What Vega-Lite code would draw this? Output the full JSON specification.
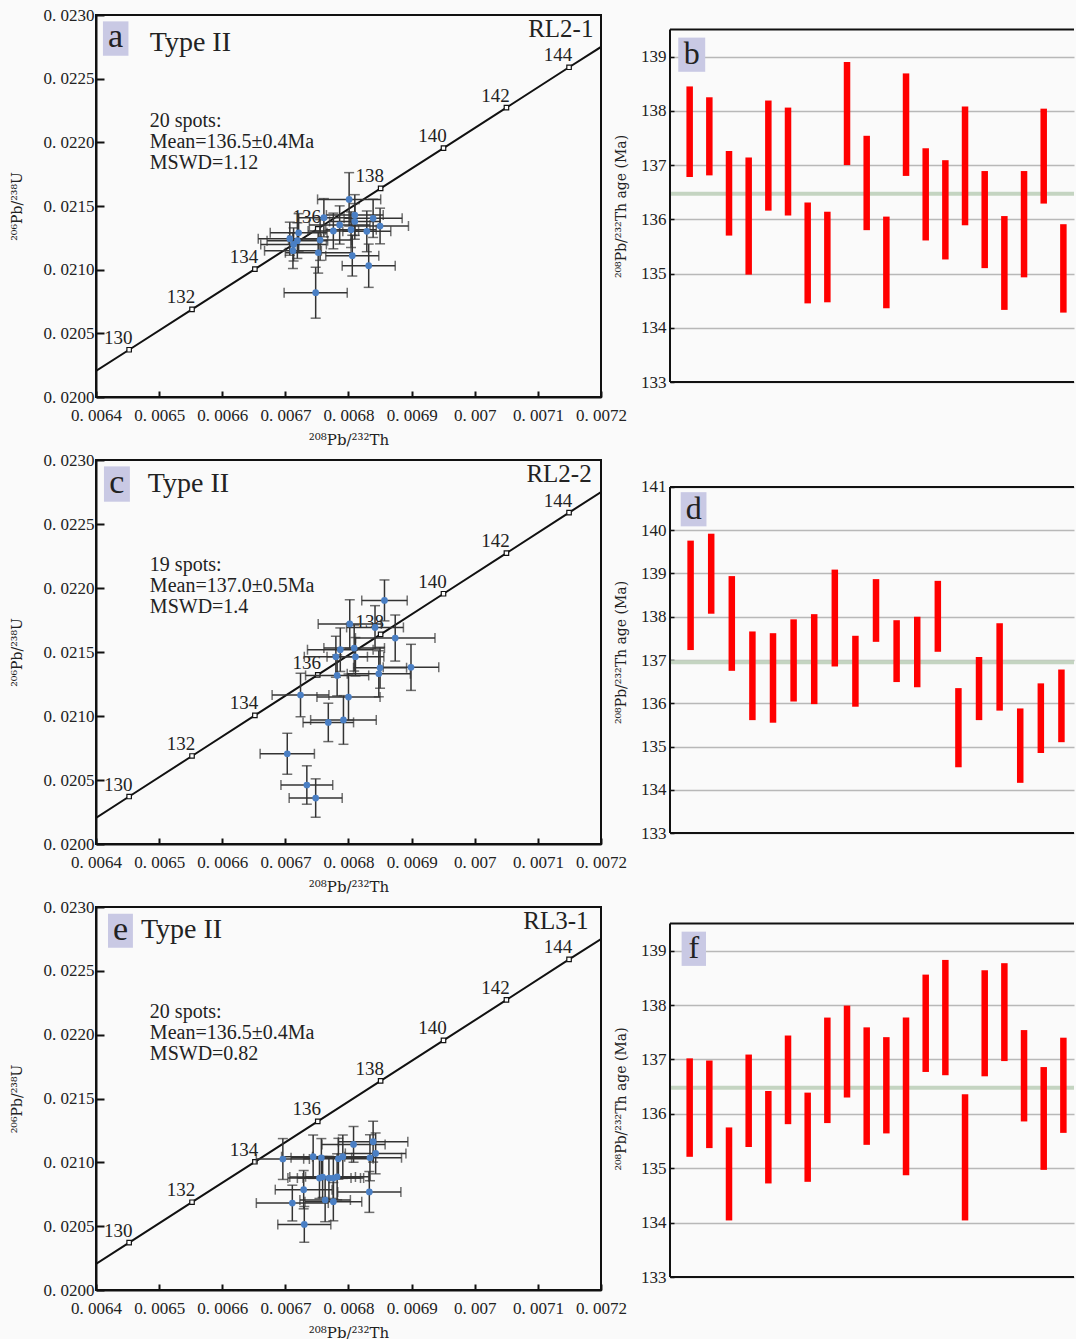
{
"$schema": "https://vega.github.io/schema/vega-lite/v6.json",
"background": "#fafafa",
"padding": {"left": 9, "top": 5, "right": 0, "bottom": 0},
"columns": 2,
"bounds": "flush",
"spacing": {"row": 63, "column": 69},
"config": {"font": "Liberation Serif", "axis": {"labelFont": "Liberation Serif", "titleFont": "DejaVu Serif", "titleFontWeight": "normal", "labelColor": "#222", "titleColor": "#222"}, "text": {"font": "Liberation Serif", "color": "#222"}},
"datasets": {
"conc": [{"t":128.946,"x":0.0064,"y":0.020204},{"t":130,"x":0.0064525,"y":0.020371},{"t":132,"x":0.0065521,"y":0.0206876},{"t":134,"x":0.0066517,"y":0.0210043},{"t":136,"x":0.0067513,"y":0.0213211},{"t":138,"x":0.0068509,"y":0.021638},{"t":140,"x":0.0069505,"y":0.0219551},{"t":142,"x":0.0070502,"y":0.0222722},{"t":144,"x":0.0071494,"y":0.0225894},{"t":145.007,"x":0.0072,"y":0.022749}],
"a": [{"x":0.006801,"y":0.021552,"sx":0.00005,"sy":0.00021},{"x":0.006761,"y":0.021408,"sx":0.000042,"sy":0.00015},{"x":0.00681,"y":0.021429,"sx":0.000045,"sy":0.00016},{"x":0.00681,"y":0.021379,"sx":0.00004,"sy":0.00014},{"x":0.006839,"y":0.021403,"sx":0.000046,"sy":0.00015},{"x":0.00685,"y":0.021343,"sx":0.000045,"sy":0.00014},{"x":0.006786,"y":0.021351,"sx":0.000048,"sy":0.00015},{"x":0.006776,"y":0.021304,"sx":0.00004,"sy":0.00014},{"x":0.006829,"y":0.021301,"sx":0.000038,"sy":0.00016},{"x":0.006721,"y":0.02129,"sx":0.000045,"sy":0.00015},{"x":0.006707,"y":0.021243,"sx":0.00005,"sy":0.00013},{"x":0.006719,"y":0.021228,"sx":0.000048,"sy":0.00014},{"x":0.006755,"y":0.021233,"sx":0.00005,"sy":0.00016},{"x":0.006713,"y":0.021198,"sx":0.000052,"sy":0.00013},{"x":0.006712,"y":0.021149,"sx":0.000045,"sy":0.00014},{"x":0.006752,"y":0.021133,"sx":0.000052,"sy":0.00016},{"x":0.006806,"y":0.02111,"sx":0.000042,"sy":0.00016},{"x":0.006832,"y":0.021031,"sx":0.000042,"sy":0.00017},{"x":0.006748,"y":0.020819,"sx":0.00005,"sy":0.0002},{"x":0.006804,"y":0.021314,"sx":0.00004,"sy":0.00014}],
"c": [{"x":0.006857,"y":0.021903,"sx":0.000036,"sy":0.00016},{"x":0.006802,"y":0.021719,"sx":0.00005,"sy":0.00019},{"x":0.006842,"y":0.021692,"sx":0.000045,"sy":0.00017},{"x":0.006874,"y":0.021609,"sx":0.000063,"sy":0.00018},{"x":0.006787,"y":0.021518,"sx":0.000052,"sy":0.00017},{"x":0.006809,"y":0.021531,"sx":0.000048,"sy":0.00018},{"x":0.00678,"y":0.021463,"sx":0.00005,"sy":0.00016},{"x":0.006811,"y":0.021463,"sx":0.000045,"sy":0.00015},{"x":0.006899,"y":0.02138,"sx":0.000044,"sy":0.00018},{"x":0.00685,"y":0.021377,"sx":0.000042,"sy":0.00016},{"x":0.006848,"y":0.02133,"sx":0.00005,"sy":0.00018},{"x":0.006782,"y":0.021317,"sx":0.00005,"sy":0.00016},{"x":0.006724,"y":0.021164,"sx":0.000045,"sy":0.00017},{"x":0.0068,"y":0.021148,"sx":0.00005,"sy":0.00018},{"x":0.006768,"y":0.02095,"sx":0.00004,"sy":0.00015},{"x":0.006792,"y":0.020969,"sx":0.000052,"sy":0.00019},{"x":0.006703,"y":0.020705,"sx":0.000043,"sy":0.00016},{"x":0.006734,"y":0.020461,"sx":0.000041,"sy":0.00015},{"x":0.006748,"y":0.020359,"sx":0.000042,"sy":0.00015}],
"e": [{"x":0.006696,"y":0.021026,"sx":0.000042,"sy":0.00016},{"x":0.006744,"y":0.021044,"sx":0.00005,"sy":0.00017},{"x":0.006757,"y":0.021036,"sx":0.000048,"sy":0.00015},{"x":0.006784,"y":0.021028,"sx":0.000055,"sy":0.00016},{"x":0.006791,"y":0.021044,"sx":0.000048,"sy":0.00017},{"x":0.006808,"y":0.02114,"sx":0.00005,"sy":0.00014},{"x":0.006839,"y":0.021162,"sx":0.000055,"sy":0.00016},{"x":0.006843,"y":0.02107,"sx":0.000048,"sy":0.00016},{"x":0.006834,"y":0.021036,"sx":0.00005,"sy":0.00018},{"x":0.006759,"y":0.020885,"sx":0.000052,"sy":0.00016},{"x":0.006769,"y":0.020877,"sx":0.00005,"sy":0.00017},{"x":0.006776,"y":0.020877,"sx":0.000048,"sy":0.00016},{"x":0.006782,"y":0.020887,"sx":0.00005,"sy":0.00018},{"x":0.006729,"y":0.020786,"sx":0.000045,"sy":0.00015},{"x":0.006711,"y":0.020681,"sx":0.000057,"sy":0.00014},{"x":0.006763,"y":0.020705,"sx":0.00004,"sy":0.00017},{"x":0.006776,"y":0.020692,"sx":0.000045,"sy":0.00015},{"x":0.006833,"y":0.020768,"sx":0.00005,"sy":0.00016},{"x":0.00673,"y":0.020514,"sx":0.000042,"sy":0.00014},{"x":0.006754,"y":0.020877,"sx":0.00005,"sy":0.00016}],
"b": [{"i":1,"lo":136.78,"hi":138.45},{"i":2,"lo":136.81,"hi":138.25},{"i":3,"lo":135.7,"hi":137.26},{"i":4,"lo":134.98,"hi":137.14},{"i":5,"lo":136.16,"hi":138.19},{"i":6,"lo":136.07,"hi":138.06},{"i":7,"lo":134.45,"hi":136.31},{"i":8,"lo":134.47,"hi":136.14},{"i":9,"lo":137.0,"hi":138.9},{"i":10,"lo":135.8,"hi":137.54},{"i":11,"lo":134.36,"hi":136.05},{"i":12,"lo":136.8,"hi":138.69},{"i":13,"lo":135.61,"hi":137.31},{"i":14,"lo":135.26,"hi":137.09},{"i":15,"lo":135.89,"hi":138.08},{"i":16,"lo":135.1,"hi":136.89},{"i":17,"lo":134.33,"hi":136.06},{"i":18,"lo":134.93,"hi":136.89},{"i":19,"lo":136.29,"hi":138.04},{"i":20,"lo":134.28,"hi":135.91}],
"d": [{"i":1,"lo":137.23,"hi":139.76},{"i":2,"lo":138.07,"hi":139.92},{"i":3,"lo":136.75,"hi":138.94},{"i":4,"lo":135.61,"hi":137.66},{"i":5,"lo":135.55,"hi":137.62},{"i":6,"lo":136.04,"hi":137.94},{"i":7,"lo":135.98,"hi":138.06},{"i":8,"lo":136.85,"hi":139.09},{"i":9,"lo":135.92,"hi":137.56},{"i":10,"lo":137.42,"hi":138.87},{"i":11,"lo":136.49,"hi":137.92},{"i":12,"lo":136.37,"hi":138.0},{"i":13,"lo":137.19,"hi":138.83},{"i":14,"lo":134.52,"hi":136.35},{"i":15,"lo":135.61,"hi":137.07},{"i":16,"lo":135.83,"hi":137.85},{"i":17,"lo":134.16,"hi":135.88},{"i":18,"lo":134.85,"hi":136.46},{"i":19,"lo":135.1,"hi":136.78}],
"f": [{"i":1,"lo":135.21,"hi":137.02},{"i":2,"lo":135.37,"hi":136.98},{"i":3,"lo":134.04,"hi":135.75},{"i":4,"lo":135.39,"hi":137.09},{"i":5,"lo":134.72,"hi":136.42},{"i":6,"lo":135.81,"hi":137.44},{"i":7,"lo":134.75,"hi":136.39},{"i":8,"lo":135.83,"hi":137.77},{"i":9,"lo":136.3,"hi":137.99},{"i":10,"lo":135.43,"hi":137.59},{"i":11,"lo":135.64,"hi":137.41},{"i":12,"lo":134.87,"hi":137.77},{"i":13,"lo":136.77,"hi":138.56},{"i":14,"lo":136.71,"hi":138.83},{"i":15,"lo":134.04,"hi":136.36},{"i":16,"lo":136.69,"hi":138.64},{"i":17,"lo":136.97,"hi":138.77},{"i":18,"lo":135.86,"hi":137.54},{"i":19,"lo":134.97,"hi":136.86},{"i":20,"lo":135.65,"hi":137.4}]
},
"concat": [
{
"width": 505, "height": 382,
"view": {"stroke": "#111", "strokeWidth": 2},
"layer": [
{"data": {"values": [{}]}, "mark": {"type": "rect", "color": "#c9c9e4"}, "encoding": {"x": {"datum": 0.006411, "type": "quantitative"}, "x2": {"datum": 0.0064514}, "y": {"datum": 0.02295, "type": "quantitative"}, "y2": {"datum": 0.02268}}},
{"data": {"values": [{}]}, "mark": {"type": "text", "fontSize": 34, "align": "center", "baseline": "middle"}, "encoding": {"x": {"datum": 0.006431, "type": "quantitative"}, "y": {"datum": 0.02283, "type": "quantitative"}, "text": {"value": "a"}}},
{"data": {"values": [{}]}, "mark": {"type": "text", "fontSize": 28, "align": "left", "baseline": "middle"}, "encoding": {"x": {"datum": 0.0064852, "type": "quantitative"}, "y": {"datum": 0.02278, "type": "quantitative"}, "text": {"value": "Type II"}}},
{"data": {"values": [{}]}, "mark": {"type": "text", "fontSize": 25, "align": "right", "baseline": "middle"}, "encoding": {"x": {"datum": 0.007188, "type": "quantitative"}, "y": {"datum": 0.02289, "type": "quantitative"}, "text": {"value": "RL2-1"}}},
{"data": {"values": [{}]}, "mark": {"type": "text", "fontSize": 20, "align": "left", "baseline": "top", "lineHeight": 21}, "encoding": {"x": {"datum": 0.0064852, "type": "quantitative"}, "y": {"datum": 0.02225, "type": "quantitative"}, "text": {"value": ["20 spots:", "Mean=136.5±0.4Ma", "MSWD=1.12"]}}},
{"data": {"name": "conc"}, "mark": {"type": "line", "color": "#111", "strokeWidth": 2, "clip": true}, "encoding": {"x": {"field": "x", "type": "quantitative", "title": "²⁰⁸Pb/²³²Th", "scale": {"domain": [0.0064, 0.0072], "nice": false, "zero": false}, "axis": {"values": [0.0064,0.0065,0.0066,0.0067,0.0068,0.0069,0.007,0.0071,0.0072], "labelExpr": "'0. ' + substring(format(datum.value, '.4~f'), 2)", "grid": false, "tickSize": -6, "tickWidth": 2, "tickColor": "#111", "domainColor": "#111", "domainWidth": 2, "labelPadding": 16, "labelFontSize": 17, "labelFlush": false, "labelOverlap": false, "titleFontSize": 15, "titlePadding": 9}}, "y": {"field": "y", "type": "quantitative", "title": "²⁰⁶Pb/²³⁸U", "scale": {"domain": [0.02, 0.023], "nice": false, "zero": false}, "axis": {"values": [0.02,0.0205,0.021,0.0215,0.022,0.0225,0.023], "labelExpr": "'0. ' + substring(format(datum.value, '.4f'), 2)", "grid": false, "tickSize": -8, "tickWidth": 2, "tickColor": "#111", "domainColor": "#111", "domainWidth": 2, "labelPadding": 10, "labelFontSize": 17, "labelOverlap": false, "labelFlush": false, "titleFontSize": 14, "titlePadding": 19}}, "order": {"field": "t", "type": "quantitative"}}},
{"data": {"name": "conc"}, "transform": [{"filter": "datum.t % 2 == 0"}], "mark": {"type": "point", "shape": "square", "size": 20, "fill": "#fff", "stroke": "#111", "strokeWidth": 1.2, "opacity": 1}, "encoding": {"x": {"field": "x", "type": "quantitative", "title": "²⁰⁸Pb/²³²Th"}, "y": {"field": "y", "type": "quantitative", "title": "²⁰⁶Pb/²³⁸U"}}},
{"data": {"name": "conc"}, "transform": [{"filter": "datum.t % 2 == 0"}], "mark": {"type": "text", "fontSize": 19, "dx": -11, "dy": -12, "align": "center", "baseline": "middle"}, "encoding": {"x": {"field": "x", "type": "quantitative", "title": "²⁰⁸Pb/²³²Th"}, "y": {"field": "y", "type": "quantitative", "title": "²⁰⁶Pb/²³⁸U"}, "text": {"field": "t", "type": "quantitative", "format": "d"}}},
{"data": {"name": "a"}, "mark": {"type": "errorbar", "ticks": true, "color": "#333", "thickness": 1.5, "size": 10}, "encoding": {"x": {"field": "x", "type": "quantitative", "title": "²⁰⁸Pb/²³²Th"}, "xError": {"field": "sx"}, "y": {"field": "y", "type": "quantitative", "title": "²⁰⁶Pb/²³⁸U"}}},
{"data": {"name": "a"}, "mark": {"type": "errorbar", "ticks": true, "color": "#333", "thickness": 1.5, "size": 10}, "encoding": {"y": {"field": "y", "type": "quantitative", "title": "²⁰⁶Pb/²³⁸U"}, "yError": {"field": "sy"}, "x": {"field": "x", "type": "quantitative", "title": "²⁰⁸Pb/²³²Th"}}},
{"data": {"name": "a"}, "mark": {"type": "circle", "size": 45, "color": "#4a7fc4", "opacity": 1}, "encoding": {"x": {"field": "x", "type": "quantitative", "title": "²⁰⁸Pb/²³²Th"}, "y": {"field": "y", "type": "quantitative", "title": "²⁰⁶Pb/²³⁸U"}}}
]
},
{
"width": 404, "height": 382,
"view": {"stroke": null},
"layer": [
{"data": {"values": [{}]}, "mark": {"type": "rule", "color": "#c4d4c1", "strokeWidth": 4}, "encoding": {"y": {"datum": 136.47, "type": "quantitative"}}},
{"data": {"name": "b"}, "mark": {"type": "rule", "color": "#ff0000", "strokeWidth": 6.5}, "encoding": {"x": {"field": "i", "type": "quantitative", "scale": {"domain": [0, 20.54], "nice": false, "zero": false}, "axis": null}, "y": {"field": "lo", "type": "quantitative", "title": "²⁰⁸Pb/²³²Th age (Ma)", "scale": {"domain": [132.724, 139.767], "nice": false, "zero": false}, "axis": {"values": [133,133.5,134,134.5,135,135.5,136,136.5,137,137.5,138,138.5,139,139.5], "labelExpr": "datum.value % 1 == 0 ? format(datum.value, 'd') : ''", "grid": true, "gridColor": "#b8b8b8", "gridWidth": 1.5, "gridOpacity": {"condition": {"test": "datum.value % 1 != 0", "value": 0}, "value": 1}, "domain": false, "tickSize": -4, "tickWidth": 1.5, "tickColor": "#111", "labelPadding": 8, "labelFontSize": 17, "labelOverlap": false, "labelFlush": false, "titleFontSize": 14, "titlePadding": 12}}, "y2": {"field": "hi"}}},
{"data": {"values": [{}]}, "mark": {"type": "rule", "color": "#111", "strokeWidth": 2}, "encoding": {"y": {"datum": 139.5, "type": "quantitative"}}},
{"data": {"values": [{}]}, "mark": {"type": "rule", "color": "#111", "strokeWidth": 2}, "encoding": {"y": {"datum": 133, "type": "quantitative"}}},
{"data": {"values": [{}]}, "mark": {"type": "rule", "color": "#111", "strokeWidth": 2}, "encoding": {"x": {"datum": 0, "type": "quantitative", "axis": null}, "y": {"datum": 133, "type": "quantitative"}, "y2": {"datum": 139.5}}},
{"data": {"values": [{}]}, "mark": {"type": "rect", "color": "#c9c9e4"}, "encoding": {"x": {"datum": 0.42, "type": "quantitative", "axis": null}, "x2": {"datum": 1.79}, "y": {"datum": 139.35, "type": "quantitative"}, "y2": {"datum": 138.72}}},
{"data": {"values": [{}]}, "mark": {"type": "text", "fontSize": 32, "align": "center", "baseline": "middle"}, "encoding": {"x": {"datum": 1.1, "type": "quantitative", "axis": null}, "y": {"datum": 139.05, "type": "quantitative"}, "text": {"value": "b"}}}
]
},
{
"width": 505, "height": 384,
"view": {"stroke": "#111", "strokeWidth": 2},
"layer": [
{"data": {"values": [{}]}, "mark": {"type": "rect", "color": "#c9c9e4"}, "encoding": {"x": {"datum": 0.0064126, "type": "quantitative"}, "x2": {"datum": 0.0064537}, "y": {"datum": 0.02295, "type": "quantitative"}, "y2": {"datum": 0.022674}}},
{"data": {"values": [{}]}, "mark": {"type": "text", "fontSize": 34, "align": "center", "baseline": "middle"}, "encoding": {"x": {"datum": 0.006433, "type": "quantitative"}, "y": {"datum": 0.02282, "type": "quantitative"}, "text": {"value": "c"}}},
{"data": {"values": [{}]}, "mark": {"type": "text", "fontSize": 28, "align": "left", "baseline": "middle"}, "encoding": {"x": {"datum": 0.0064821, "type": "quantitative"}, "y": {"datum": 0.022815, "type": "quantitative"}, "text": {"value": "Type II"}}},
{"data": {"values": [{}]}, "mark": {"type": "text", "fontSize": 25, "align": "right", "baseline": "middle"}, "encoding": {"x": {"datum": 0.0071852, "type": "quantitative"}, "y": {"datum": 0.02289, "type": "quantitative"}, "text": {"value": "RL2-2"}}},
{"data": {"values": [{}]}, "mark": {"type": "text", "fontSize": 20, "align": "left", "baseline": "top", "lineHeight": 21}, "encoding": {"x": {"datum": 0.0064853, "type": "quantitative"}, "y": {"datum": 0.022257, "type": "quantitative"}, "text": {"value": ["19 spots:", "Mean=137.0±0.5Ma", "MSWD=1.4"]}}},
{"data": {"name": "conc"}, "mark": {"type": "line", "color": "#111", "strokeWidth": 2, "clip": true}, "encoding": {"x": {"field": "x", "type": "quantitative", "title": "²⁰⁸Pb/²³²Th", "scale": {"domain": [0.0064, 0.0072], "nice": false, "zero": false}, "axis": {"values": [0.0064,0.0065,0.0066,0.0067,0.0068,0.0069,0.007,0.0071,0.0072], "labelExpr": "'0. ' + substring(format(datum.value, '.4~f'), 2)", "grid": false, "tickSize": -6, "tickWidth": 2, "tickColor": "#111", "domainColor": "#111", "domainWidth": 2, "labelPadding": 16, "labelFontSize": 17, "labelFlush": false, "labelOverlap": false, "titleFontSize": 15, "titlePadding": 9}}, "y": {"field": "y", "type": "quantitative", "title": "²⁰⁶Pb/²³⁸U", "scale": {"domain": [0.02, 0.023], "nice": false, "zero": false}, "axis": {"values": [0.02,0.0205,0.021,0.0215,0.022,0.0225,0.023], "labelExpr": "'0. ' + substring(format(datum.value, '.4f'), 2)", "grid": false, "tickSize": -8, "tickWidth": 2, "tickColor": "#111", "domainColor": "#111", "domainWidth": 2, "labelPadding": 10, "labelFontSize": 17, "labelOverlap": false, "labelFlush": false, "titleFontSize": 14, "titlePadding": 19}}, "order": {"field": "t", "type": "quantitative"}}},
{"data": {"name": "conc"}, "transform": [{"filter": "datum.t % 2 == 0"}], "mark": {"type": "point", "shape": "square", "size": 20, "fill": "#fff", "stroke": "#111", "strokeWidth": 1.2, "opacity": 1}, "encoding": {"x": {"field": "x", "type": "quantitative", "title": "²⁰⁸Pb/²³²Th"}, "y": {"field": "y", "type": "quantitative", "title": "²⁰⁶Pb/²³⁸U"}}},
{"data": {"name": "conc"}, "transform": [{"filter": "datum.t % 2 == 0"}], "mark": {"type": "text", "fontSize": 19, "dx": -11, "dy": -12, "align": "center", "baseline": "middle"}, "encoding": {"x": {"field": "x", "type": "quantitative", "title": "²⁰⁸Pb/²³²Th"}, "y": {"field": "y", "type": "quantitative", "title": "²⁰⁶Pb/²³⁸U"}, "text": {"field": "t", "type": "quantitative", "format": "d"}}},
{"data": {"name": "c"}, "mark": {"type": "errorbar", "ticks": true, "color": "#333", "thickness": 1.5, "size": 10}, "encoding": {"x": {"field": "x", "type": "quantitative", "title": "²⁰⁸Pb/²³²Th"}, "xError": {"field": "sx"}, "y": {"field": "y", "type": "quantitative", "title": "²⁰⁶Pb/²³⁸U"}}},
{"data": {"name": "c"}, "mark": {"type": "errorbar", "ticks": true, "color": "#333", "thickness": 1.5, "size": 10}, "encoding": {"y": {"field": "y", "type": "quantitative", "title": "²⁰⁶Pb/²³⁸U"}, "yError": {"field": "sy"}, "x": {"field": "x", "type": "quantitative", "title": "²⁰⁸Pb/²³²Th"}}},
{"data": {"name": "c"}, "mark": {"type": "circle", "size": 45, "color": "#4a7fc4", "opacity": 1}, "encoding": {"x": {"field": "x", "type": "quantitative", "title": "²⁰⁸Pb/²³²Th"}, "y": {"field": "y", "type": "quantitative", "title": "²⁰⁶Pb/²³⁸U"}}}
]
},
{
"width": 404, "height": 384,
"view": {"stroke": null},
"layer": [
{"data": {"values": [{}]}, "mark": {"type": "rule", "color": "#c4d4c1", "strokeWidth": 4}, "encoding": {"y": {"datum": 136.95, "type": "quantitative"}}},
{"data": {"name": "d"}, "mark": {"type": "rule", "color": "#ff0000", "strokeWidth": 6.5}, "encoding": {"x": {"field": "i", "type": "quantitative", "scale": {"domain": [0, 19.61], "nice": false, "zero": false}, "axis": null}, "y": {"field": "lo", "type": "quantitative", "title": "²⁰⁸Pb/²³²Th age (Ma)", "scale": {"domain": [132.746, 141.624], "nice": false, "zero": false}, "axis": {"values": [133,133.5,134,134.5,135,135.5,136,136.5,137,137.5,138,138.5,139,139.5,140,140.5,141], "labelExpr": "datum.value % 1 == 0 ? format(datum.value, 'd') : ''", "grid": true, "gridColor": "#b8b8b8", "gridWidth": 1.5, "gridOpacity": {"condition": {"test": "datum.value % 1 != 0", "value": 0}, "value": 1}, "domain": false, "tickSize": -4, "tickWidth": 1.5, "tickColor": "#111", "labelPadding": 8, "labelFontSize": 17, "labelOverlap": false, "labelFlush": false, "titleFontSize": 14, "titlePadding": 12}}, "y2": {"field": "hi"}}},
{"data": {"values": [{}]}, "mark": {"type": "rule", "color": "#111", "strokeWidth": 2}, "encoding": {"y": {"datum": 141, "type": "quantitative"}}},
{"data": {"values": [{}]}, "mark": {"type": "rule", "color": "#111", "strokeWidth": 2}, "encoding": {"y": {"datum": 133, "type": "quantitative"}}},
{"data": {"values": [{}]}, "mark": {"type": "rule", "color": "#111", "strokeWidth": 2}, "encoding": {"x": {"datum": 0, "type": "quantitative", "axis": null}, "y": {"datum": 133, "type": "quantitative"}, "y2": {"datum": 141}}},
{"data": {"values": [{}]}, "mark": {"type": "rect", "color": "#c9c9e4"}, "encoding": {"x": {"datum": 0.52, "type": "quantitative", "axis": null}, "x2": {"datum": 1.77}, "y": {"datum": 140.88, "type": "quantitative"}, "y2": {"datum": 140.09}}},
{"data": {"values": [{}]}, "mark": {"type": "text", "fontSize": 32, "align": "center", "baseline": "middle"}, "encoding": {"x": {"datum": 1.15, "type": "quantitative", "axis": null}, "y": {"datum": 140.5, "type": "quantitative"}, "text": {"value": "d"}}}
]
},
{
"width": 505, "height": 383,
"view": {"stroke": "#111", "strokeWidth": 2},
"layer": [
{"data": {"values": [{}]}, "mark": {"type": "rect", "color": "#c9c9e4"}, "encoding": {"x": {"datum": 0.006419, "type": "quantitative"}, "x2": {"datum": 0.0064585}, "y": {"datum": 0.022948, "type": "quantitative"}, "y2": {"datum": 0.022681}}},
{"data": {"values": [{}]}, "mark": {"type": "text", "fontSize": 34, "align": "center", "baseline": "middle"}, "encoding": {"x": {"datum": 0.006439, "type": "quantitative"}, "y": {"datum": 0.02282, "type": "quantitative"}, "text": {"value": "e"}}},
{"data": {"values": [{}]}, "mark": {"type": "text", "fontSize": 28, "align": "left", "baseline": "middle"}, "encoding": {"x": {"datum": 0.0064711, "type": "quantitative"}, "y": {"datum": 0.022822, "type": "quantitative"}, "text": {"value": "Type II"}}},
{"data": {"values": [{}]}, "mark": {"type": "text", "fontSize": 25, "align": "right", "baseline": "middle"}, "encoding": {"x": {"datum": 0.0071804, "type": "quantitative"}, "y": {"datum": 0.02289, "type": "quantitative"}, "text": {"value": "RL3-1"}}},
{"data": {"values": [{}]}, "mark": {"type": "text", "fontSize": 20, "align": "left", "baseline": "top", "lineHeight": 21}, "encoding": {"x": {"datum": 0.0064853, "type": "quantitative"}, "y": {"datum": 0.022255, "type": "quantitative"}, "text": {"value": ["20 spots:", "Mean=136.5±0.4Ma", "MSWD=0.82"]}}},
{"data": {"name": "conc"}, "mark": {"type": "line", "color": "#111", "strokeWidth": 2, "clip": true}, "encoding": {"x": {"field": "x", "type": "quantitative", "title": "²⁰⁸Pb/²³²Th", "scale": {"domain": [0.0064, 0.0072], "nice": false, "zero": false}, "axis": {"values": [0.0064,0.0065,0.0066,0.0067,0.0068,0.0069,0.007,0.0071,0.0072], "labelExpr": "'0. ' + substring(format(datum.value, '.4~f'), 2)", "grid": false, "tickSize": -6, "tickWidth": 2, "tickColor": "#111", "domainColor": "#111", "domainWidth": 2, "labelPadding": 16, "labelFontSize": 17, "labelFlush": false, "labelOverlap": false, "titleFontSize": 15, "titlePadding": 9}}, "y": {"field": "y", "type": "quantitative", "title": "²⁰⁶Pb/²³⁸U", "scale": {"domain": [0.02, 0.023], "nice": false, "zero": false}, "axis": {"values": [0.02,0.0205,0.021,0.0215,0.022,0.0225,0.023], "labelExpr": "'0. ' + substring(format(datum.value, '.4f'), 2)", "grid": false, "tickSize": -8, "tickWidth": 2, "tickColor": "#111", "domainColor": "#111", "domainWidth": 2, "labelPadding": 10, "labelFontSize": 17, "labelOverlap": false, "labelFlush": false, "titleFontSize": 14, "titlePadding": 19}}, "order": {"field": "t", "type": "quantitative"}}},
{"data": {"name": "conc"}, "transform": [{"filter": "datum.t % 2 == 0"}], "mark": {"type": "point", "shape": "square", "size": 20, "fill": "#fff", "stroke": "#111", "strokeWidth": 1.2, "opacity": 1}, "encoding": {"x": {"field": "x", "type": "quantitative", "title": "²⁰⁸Pb/²³²Th"}, "y": {"field": "y", "type": "quantitative", "title": "²⁰⁶Pb/²³⁸U"}}},
{"data": {"name": "conc"}, "transform": [{"filter": "datum.t % 2 == 0"}], "mark": {"type": "text", "fontSize": 19, "dx": -11, "dy": -12, "align": "center", "baseline": "middle"}, "encoding": {"x": {"field": "x", "type": "quantitative", "title": "²⁰⁸Pb/²³²Th"}, "y": {"field": "y", "type": "quantitative", "title": "²⁰⁶Pb/²³⁸U"}, "text": {"field": "t", "type": "quantitative", "format": "d"}}},
{"data": {"name": "e"}, "mark": {"type": "errorbar", "ticks": true, "color": "#333", "thickness": 1.5, "size": 10}, "encoding": {"x": {"field": "x", "type": "quantitative", "title": "²⁰⁸Pb/²³²Th"}, "xError": {"field": "sx"}, "y": {"field": "y", "type": "quantitative", "title": "²⁰⁶Pb/²³⁸U"}}},
{"data": {"name": "e"}, "mark": {"type": "errorbar", "ticks": true, "color": "#333", "thickness": 1.5, "size": 10}, "encoding": {"y": {"field": "y", "type": "quantitative", "title": "²⁰⁶Pb/²³⁸U"}, "yError": {"field": "sy"}, "x": {"field": "x", "type": "quantitative", "title": "²⁰⁸Pb/²³²Th"}}},
{"data": {"name": "e"}, "mark": {"type": "circle", "size": 45, "color": "#4a7fc4", "opacity": 1}, "encoding": {"x": {"field": "x", "type": "quantitative", "title": "²⁰⁸Pb/²³²Th"}, "y": {"field": "y", "type": "quantitative", "title": "²⁰⁶Pb/²³⁸U"}}}
]
},
{
"width": 404, "height": 383,
"view": {"stroke": null},
"layer": [
{"data": {"values": [{}]}, "mark": {"type": "rule", "color": "#c4d4c1", "strokeWidth": 4}, "encoding": {"y": {"datum": 136.48, "type": "quantitative"}}},
{"data": {"name": "f"}, "mark": {"type": "rule", "color": "#ff0000", "strokeWidth": 6.5}, "encoding": {"x": {"field": "i", "type": "quantitative", "scale": {"domain": [0, 20.54], "nice": false, "zero": false}, "axis": null}, "y": {"field": "lo", "type": "quantitative", "title": "²⁰⁸Pb/²³²Th age (Ma)", "scale": {"domain": [132.761, 139.803], "nice": false, "zero": false}, "axis": {"values": [133,133.5,134,134.5,135,135.5,136,136.5,137,137.5,138,138.5,139,139.5], "labelExpr": "datum.value % 1 == 0 ? format(datum.value, 'd') : ''", "grid": true, "gridColor": "#b8b8b8", "gridWidth": 1.5, "gridOpacity": {"condition": {"test": "datum.value % 1 != 0", "value": 0}, "value": 1}, "domain": false, "tickSize": -4, "tickWidth": 1.5, "tickColor": "#111", "labelPadding": 8, "labelFontSize": 17, "labelOverlap": false, "labelFlush": false, "titleFontSize": 14, "titlePadding": 12}}, "y2": {"field": "hi"}}},
{"data": {"values": [{}]}, "mark": {"type": "rule", "color": "#111", "strokeWidth": 2}, "encoding": {"y": {"datum": 139.5, "type": "quantitative"}}},
{"data": {"values": [{}]}, "mark": {"type": "rule", "color": "#111", "strokeWidth": 2}, "encoding": {"y": {"datum": 133, "type": "quantitative"}}},
{"data": {"values": [{}]}, "mark": {"type": "rule", "color": "#111", "strokeWidth": 2}, "encoding": {"x": {"datum": 0, "type": "quantitative", "axis": null}, "y": {"datum": 133, "type": "quantitative"}, "y2": {"datum": 139.5}}},
{"data": {"values": [{}]}, "mark": {"type": "rect", "color": "#c9c9e4"}, "encoding": {"x": {"datum": 0.59, "type": "quantitative", "axis": null}, "x2": {"datum": 1.83}, "y": {"datum": 139.35, "type": "quantitative"}, "y2": {"datum": 138.72}}},
{"data": {"values": [{}]}, "mark": {"type": "text", "fontSize": 32, "align": "center", "baseline": "middle"}, "encoding": {"x": {"datum": 1.21, "type": "quantitative", "axis": null}, "y": {"datum": 139.05, "type": "quantitative"}, "text": {"value": "f"}}}
]
}
]
}
